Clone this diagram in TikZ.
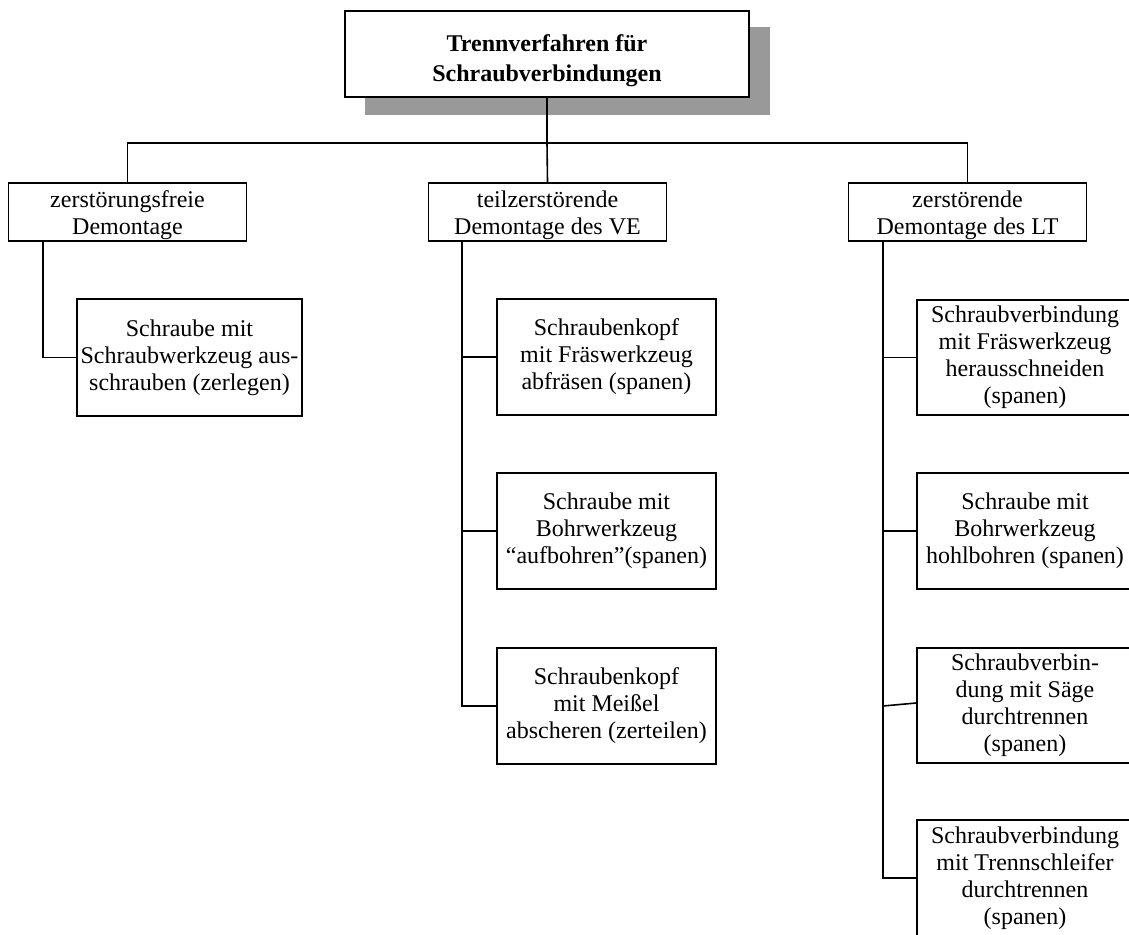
\documentclass[tikz,border=0pt]{standalone}
\usepackage{fontspec}
\setmainfont{Liberation Serif}
\definecolor{shadowgray}{HTML}{999999}
\begin{document}
\begin{tikzpicture}[x=1pt,y=-1pt,line width=1.6pt,
  box/.style={draw, rectangle, inner sep=0pt, align=center, fill=white,
              font=\fontsize{24}{27}\selectfont},
  titlebox/.style={box, minimum width=404pt, minimum height=86pt,
              font=\bfseries\fontsize{24}{30}\selectfont},
  catbox/.style={box, minimum width=238pt, minimum height=58pt},
  leftbox/.style={box, minimum width=225pt, minimum height=117pt},
  midbox/.style={box, minimum width=219pt, minimum height=116pt},
  rightbox/.style={box, minimum width=216pt, minimum height=116pt},
  shadowbox/.style={fill=shadowgray, draw=none}]
\useasboundingbox (0,0) rectangle (1129,934);
\clip (0,0) rectangle (1129,934);

% title with shadow
\fill[shadowbox] (365,27) rectangle (770,115);
\node[titlebox] (top) at (547,54) {\rule{0pt}{30pt}Trennverfahren für\\Schraubverbindungen};

% category boxes
\node[catbox] (L1) at (127.5,212) {\rule{0pt}{23pt}zerstörungsfreie\\Demontage};
\node[catbox] (M1) at (547.5,212) {\rule{0pt}{23pt}teilzerstörende\\Demontage des VE};
\node[catbox] (R1) at (967.5,212) {\rule{0pt}{23pt}zerstörende\\Demontage des LT};

% left column
\node[leftbox] (LC) at (189.5,357.5) {Schraube mit\\Schraubwerkzeug aus-\\schrauben (zerlegen)};

% middle column
\node[midbox] (MC1) at (606.5,357) {Schraubenkopf\\mit Fräswerkzeug\\abfräsen (spanen)};
\node[midbox] (MC2) at (606.5,531) {Schraube mit\\Bohrwerkzeug\\“aufbohren”(spanen)};
\node[midbox] (MC3) at (606.5,706) {Schraubenkopf\\mit Meißel\\abscheren (zerteilen)};

% right column
\node[rightbox, minimum height=115pt] (RC1) at (1025,357.5) {Schraubverbindung\\mit Fräswerkzeug\\herausschneiden\\(spanen)};
\node[rightbox] (RC2) at (1025,531) {Schraube mit\\Bohrwerkzeug\\hohlbohren (spanen)};
\node[rightbox, minimum height=115pt] (RC3) at (1025,705.5) {Schraubverbin-\\dung mit Säge\\durchtrennen\\(spanen)};
\node[rightbox] (RC4) at (1025,878) {Schraubverbindung\\mit Trennschleifer\\durchtrennen\\(spanen)};

% connectors
\coordinate (bus) at (547,143);
\draw (top.south) -- (bus);
\draw (L1.north) |- (bus) -| (R1.north);
\draw (M1.north) -- (bus);

\coordinate (lv) at (43,241);
\draw (lv) |- (LC.west);

\coordinate (mv) at (462,241);
\draw (mv) |- (MC3.west);
\draw (mv |- MC1.west) -- (MC1.west);
\draw (mv |- MC2.west) -- (MC2.west);

\coordinate (rv) at (883,241);
\coordinate (r3) at (883,706);
\draw (rv) |- (RC4.west);
\draw (rv |- RC1.west) -- (RC1.west);
\draw (rv |- RC2.west) -- (RC2.west);
\draw (r3) -- ([yshift=2.5pt]RC3.west);
\end{tikzpicture}
\end{document}
